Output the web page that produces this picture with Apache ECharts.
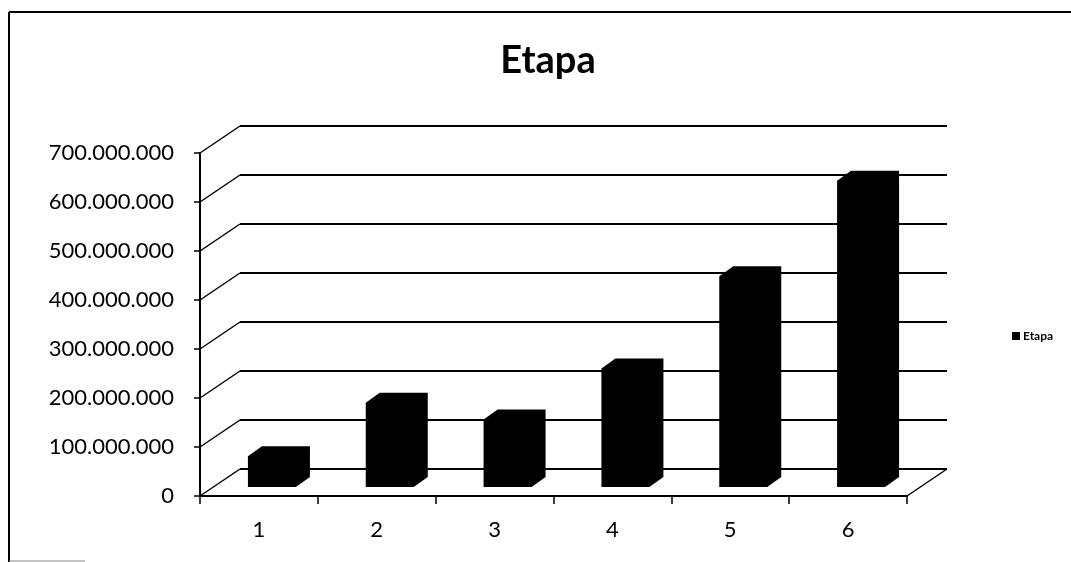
<!DOCTYPE html>
<html>
<head>
<meta charset="utf-8">
<style>
  html, body { margin: 0; padding: 0; background: #fff; }
  #chart { width: 1071px; height: 562px; }
</style>
<script src="https://cdn.jsdelivr.net/npm/echarts@6/dist/echarts.min.js"></script>
</head>
<body>
<div id="chart"></div>
<script>
// data
const categories = ['1', '2', '3', '4', '5', '6']
const etapaValues = [63000000, 172000000, 138000000, 242000000, 430000000, 625000000]
const yMax = 700000000
const yStep = 100000000
const wallTicks = [0, 100000000, 200000000, 300000000, 400000000, 500000000, 600000000, 700000000]

// fake 3d: back wall is shifted by this much
const depthX = 40
const depthY = -27

const fmt = v => String(v).replace(/\B(?=(\d{3})+(?!\d))/g, '.')

const chart = echarts.init(document.getElementById('chart'))

chart.setOption({
  animation: false,
  backgroundColor: '#fff',
  textStyle: { fontFamily: 'Lato', color: '#000' },
  title: {
    text: 'Etapa',
    left: 543,
    textAlign: 'center',
    top: 37,
    textStyle: { fontFamily: 'Lato', fontWeight: 'bold', fontSize: 38, color: '#000' }
  },
  legend: {
    data: [{ name: 'Etapa', icon: 'rect', itemStyle: { color: '#000' } }],
    left: 1007,
    top: 325,
    itemWidth: 8,
    itemHeight: 8,
    itemGap: 3,
    textStyle: { fontFamily: 'Lato', fontWeight: 'bold', fontSize: 12, color: '#000', padding: [0, 0, 0, -2] }
  },
  graphic: [
    { type: 'line', shape: { x1: 9, y1: 12, x2: 1071, y2: 12 }, style: { stroke: '#000', lineWidth: 2 } },
    { type: 'line', shape: { x1: 9, y1: 12, x2: 9, y2: 562 }, style: { stroke: '#000', lineWidth: 2 } },
    { type: 'line', shape: { x1: 9, y1: 561, x2: 85, y2: 561 }, style: { stroke: '#888', lineWidth: 1 } }
  ],
  grid: [
    // front plane
    { left: 200, right: 164, top: 153, bottom: 66 },
    // back wall
    { left: 240, right: 124, top: 126, bottom: 93 }
  ],
  xAxis: [{
    type: 'category',
    gridIndex: 0,
    data: categories,
    axisLine: { lineStyle: { color: '#000', width: 2 } },
    axisTick: { show: true, length: 8, lineStyle: { color: '#000', width: 1.5 } },
    axisLabel: { color: '#000', fontSize: 22, margin: 23, fontFamily: 'Lato' }
  }, {
    type: 'category',
    gridIndex: 1,
    data: categories,
    show: false
  }],
  yAxis: [{
    type: 'value',
    gridIndex: 0,
    min: 0,
    max: yMax,
    interval: yStep,
    axisLine: { show: true, lineStyle: { color: '#000', width: 2 } },
    axisTick: { show: true, length: 6, lineStyle: { color: '#000', width: 1.5 } },
    splitLine: { show: false },
    axisLabel: { color: '#000', fontSize: 22, margin: 26, fontFamily: 'Lato' , formatter: fmt }
  }, {
    type: 'value',
    gridIndex: 1,
    min: 0,
    max: yMax,
    interval: yStep,
    axisLine: { show: false },
    axisTick: { show: false },
    axisLabel: { show: false },
    splitLine: { show: true, lineStyle: { color: '#000', width: 2 } }
  }],
  series: [{
    // left wall and floor diagonals
    type: 'custom',
    name: 'wall',
    xAxisIndex: 0,
    yAxisIndex: 0,
    silent: true,
    data: wallTicks.map(v => [0, v]),
    renderItem(params, api) {
      const cs = params.coordSys
      const y = api.coord([0, api.value(1)])[1]
      const children = [{
        type: 'line',
        shape: { x1: cs.x, y1: y, x2: cs.x + depthX, y2: y + depthY },
        style: { stroke: '#000', lineWidth: 1.5 }
      }]
      if (api.value(1) === 0) {
        const xr = cs.x + cs.width
        children.push({
          type: 'line',
          shape: { x1: xr, y1: y, x2: xr + depthX, y2: y + depthY },
          style: { stroke: '#000', lineWidth: 1.5 }
        })
      }
      return { type: 'group', children }
    }
  }, {
    type: 'custom',
    name: 'Etapa',
    xAxisIndex: 0,
    yAxisIndex: 0,
    itemStyle: { color: '#000' },
    data: etapaValues.map((v, i) => [i, v]),
    renderItem(params, api) {
      const top = api.coord([api.value(0), api.value(1)])
      const base = api.coord([api.value(0), 0])
      const half = 24
      const sx = 13, sy = -9   // bar sits a bit into the depth
      const dx = 14, dy = -10  // bar depth
      const l = top[0] + sx - half
      const r = top[0] + sx + half
      const t = top[1] + sy
      const b = base[1] + sy
      return {
        type: 'polygon',
        shape: {
          points: [[l, b], [l, t], [l + dx, t + dy], [r + dx, t + dy], [r + dx, b + dy], [r, b]]
        },
        style: { fill: '#000' }
      }
    }
  }]
})
</script>
</body>
</html>
